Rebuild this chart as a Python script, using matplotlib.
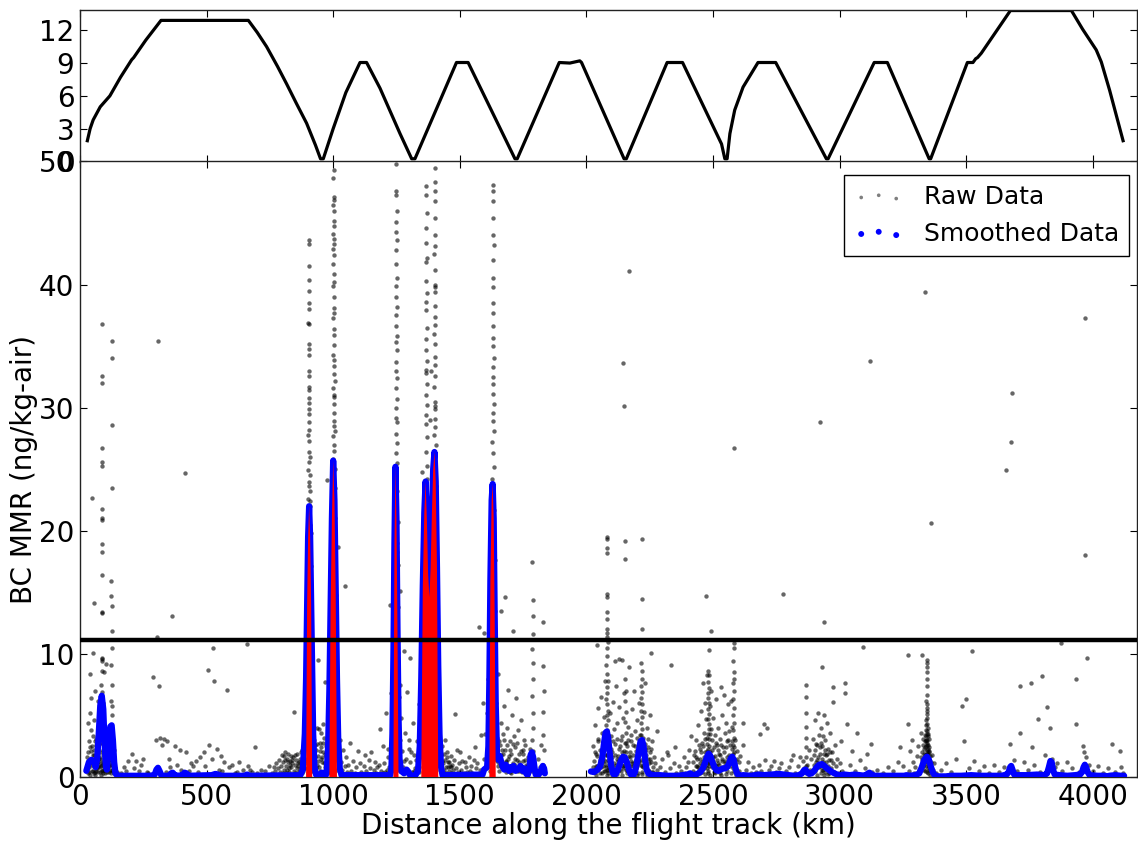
import numpy as np
import matplotlib
matplotlib.use("Agg")
import matplotlib.pyplot as plt

# ---------------- data ----------------
# flight altitude profile: (distance km, altitude km)
altitude_profile = [(29,1.9),(40,3.0),(52,3.8),(80,5.0),(118,6.0),(160,7.7),(204,9.3),(212,9.5),(224,9.9),
    (260,11.1),(320,12.9),(665,12.9),(700,11.8),(737,10.5),(780,8.7),(816,7.1),(855,5.3),(895,3.5),(930,1.5),
    (950,0.25),(961,0.25),(1000,3.0),(1050,6.3),(1106,9.05),(1132,9.05),(1185,6.7),(1264,2.55),(1310,0.25),
    (1323,0.25),(1487,9.05),(1533,9.05),(1718,0.25),(1727,0.25),(1893,9.05),(1935,9.0),(1974,9.2),(1981,9.05),
    (2149,0.25),(2158,0.25),(2319,9.05),(2380,9.05),(2534,1.6),(2547,0.25),(2556,0.25),(2567,2.55),(2586,4.7),
    (2619,6.8),(2640,7.6),(2678,9.05),(2748,9.05),(2948,0.25),(2955,0.25),(3137,9.05),(3189,9.05),(3354,0.25),
    (3360,0.25),(3505,9.05),(3527,9.05),(3538,9.4),(3545,9.5),(3560,9.9),(3675,13.8),(3916,13.8),(3960,12.1),
    (4014,10.2),(4034,9.1),(4067,6.5),(4120,1.9)]

# smoothed BC MMR: (distance km, ng/kg)
smoothed_a = [(25,0.5),(35,1.2),(45,1.4),(55,1.3),(62,0.8),(68,1.5),(74,3.5),(80,5.8),(86,6.6),(92,5.5),(97,2.8),
    (102,0.9),(106,0.6),(110,1.5),(115,3.2),(120,4.1),(125,4.2),(130,3.0),(135,1.2),(140,0.3),(148,0.1),(200,0.1),
    (280,0.1),(295,0.2),(302,0.6),(308,0.75),(314,0.5),(322,0.1),(350,0.1),(360,0.3),(366,0.35),(372,0.2),(385,0.1),
    (405,0.15),(413,0.35),(420,0.3),(428,0.1),(520,0.15),(535,0.25),(545,0.2),(560,0.1),(650,0.1),(660,0.2),(670,0.1),
    (870,0.15),(880,0.6),(888,3.5),(893,8.0),(897,14.0),(901,19.5),(905,22.0),(909,19.5),(913,14.0),(917,8.0),
    (921,3.5),(926,0.8),(932,0.2),(945,0.1),(955,0.35),(962,0.3),(970,0.1),(975,0.5),(980,2.5),(985,7.0),(990,14.0),
    (995,21.0),(1000,25.7),(1005,22.5),(1010,15.0),(1015,8.0),(1020,3.0),(1026,0.7),(1033,0.15),(1225,0.15),
    (1230,0.6),(1234,3.5),(1238,10.0),(1242,19.0),(1246,25.2),(1250,21.0),(1254,12.0),(1258,5.0),(1262,1.5),
    (1268,0.5),(1280,0.3),(1290,0.6),(1298,0.4),(1305,0.1),(1325,0.15),(1335,0.5),(1342,2.5),(1348,8.0),(1354,15.5),
    (1360,21.5),(1365,24.0),(1370,21.0),(1375,16.5),(1380,14.6),(1385,17.0),(1390,21.5),(1395,25.0),(1400,26.4),
    (1405,24.0),(1410,17.0),(1415,9.0),(1420,3.5),(1426,0.8),(1432,0.15),(1590,0.2),(1596,0.6),(1602,0.7),
    (1608,0.8),(1613,2.5),(1617,8.0),(1621,16.0),(1626,22.5),(1630,23.8),(1634,21.0),(1638,13.0),(1642,6.0),
    (1647,2.0),(1652,1.4),(1658,1.7),(1664,1.2),(1670,0.8),(1676,0.6),(1682,1.0),(1688,0.7),(1694,0.5),(1700,0.8),
    (1706,0.6),(1712,0.9),(1720,0.5),(1730,0.6),(1740,0.9),(1748,0.5),(1756,0.7),(1762,0.3),(1768,0.15),(1775,0.6),
    (1780,1.8),(1785,2.0),(1790,1.6),(1795,0.8),(1800,0.2),(1808,0.1),(1815,0.3),(1822,0.6),(1828,0.9),(1833,0.7),
    (1836,0.3)]
smoothed_b = [(2018,0.45),(2030,0.4),(2045,0.6),(2055,0.9),(2063,1.6),(2070,2.8),(2076,3.6),(2081,3.7),(2086,3.2),
    (2092,2.0),(2098,0.9),(2105,0.3),(2112,0.15),(2120,0.4),(2130,0.9),(2138,1.4),(2145,1.65),(2152,1.6),(2160,1.2),
    (2168,0.6),(2176,0.2),(2184,0.1),(2192,0.4),(2200,1.2),(2208,2.2),(2214,2.9),(2220,3.0),(2226,2.5),(2232,1.4),
    (2238,0.6),(2245,0.3),(2255,0.2),(2270,0.15),(2290,0.15),(2320,0.1),(2360,0.1),(2380,0.15),(2400,0.2),(2410,0.3),
    (2420,0.15),(2435,0.2),(2450,0.4),(2460,0.7),(2468,1.1),(2476,1.6),(2483,1.9),(2490,1.7),(2498,1.2),(2506,0.8),
    (2514,0.55),(2522,0.5),(2530,0.6),(2540,0.7),(2548,0.7),(2556,0.8),(2564,1.1),(2570,1.5),(2576,1.65),(2582,1.4),
    (2588,0.8),(2595,0.3),(2603,0.1),(2620,0.15),(2650,0.1),(2680,0.2),(2700,0.15),(2730,0.2),(2760,0.25),(2780,0.2),
    (2800,0.15),(2820,0.1),(2840,0.15),(2852,0.3),(2860,0.55),(2866,0.6),(2872,0.4),(2880,0.25),(2890,0.3),(2900,0.5),
    (2910,0.8),(2920,1.0),(2930,1.05),(2940,0.9),(2950,0.7),(2960,0.55),(2970,0.4),(2980,0.3),(2990,0.2),(3000,0.15),
    (3020,0.2),(3040,0.15),(3060,0.2),(3080,0.15),(3100,0.1),(3110,0.25),(3118,0.35),(3126,0.2),(3140,0.1),(3200,0.1),
    (3255,0.1),(3265,0.15),(3275,0.1),(3300,0.15),(3315,0.3),(3325,0.8),(3335,1.4),(3345,1.65),(3353,1.4),(3360,0.9),
    (3368,0.4),(3376,0.15),(3390,0.05),(3420,0.05),(3440,0.1),(3480,0.1),(3520,0.15),(3560,0.1),(3600,0.1),(3640,0.1),
    (3660,0.2),(3668,0.4),(3674,0.8),(3678,0.9),(3683,0.6),(3690,0.2),(3700,0.15),(3740,0.15),(3780,0.2),(3810,0.15),
    (3820,0.3),(3827,0.8),(3833,1.3),(3838,1.2),(3843,0.6),(3850,0.2),(3870,0.15),(3900,0.1),(3930,0.15),(3950,0.2),
    (3958,0.4),(3964,0.8),(3969,1.0),(3974,0.8),(3980,0.4),(3988,0.15),(4020,0.1),(4050,0.1)]
smoothed_c = [(4065,0.1),(4090,0.15),(4110,0.1),(4124,0.1)]

threshold = 11.1

# raw BC MMR samples: (distance km, ng/kg)
raw_start_low = [(28,0.6),(30,2.0),(32,0.3),(33,4.4),(35,2.9),(36,1.0),(38,5.2),(40,8.4),(41,0.15),(42,3.8),(44,1.4),
    (45,6.4),(47,0.5),(48,2.5),(50,1.8),(52,0.9),(53,3.3),(55,4.6),(57,1.8),(58,0.2),(60,1.2),(62,0.7),(63,2.6),(65,3.1),
    (67,1.1),(68,0.7),(70,2.3),(72,0.4),(74,1.5),(75,1.6),(77,0.8),(78,0.4),(80,2.0),(82,1.1),(84,4.9),(88,0.5),(90,1.2),
    (92,3.4),(94,0.9),(96,2.1),(98,1.6),(100,2.6),(104,0.8),(106,1.3),(108,0.4),(110,1.8),(112,2.5),(114,0.4),(116,3.2),
    (118,1.0),(120,0.6),(122,1.4),(128,1.0),(130,0.5),(133,2.2),(136,0.3),(140,0.7),(145,0.4),(31,1.3),(37,0.4),(43,2.1),
    (49,1.2),(54,0.3),(59,2.9),(64,0.5),(69,1.7),(73,0.9),(79,3.6),(83,0.2),(93,0.6),(99,0.3),(103,1.9)]
raw_col_86 = [(86,32.6),(87,32.0),(85,26.7),(86,25.6),(87,25.3),(86,21.8),(85,21.0),(87,20.9),(86,18.9),(87,18.3),
    (86,16.4),(85,13.4),(87,13.3),(86,9.6),(85,9.4),(88,8.6),(84,7.5),(86,6.9),(89,6.0),(83,5.5),(87,4.8),(90,4.2),
    (82,3.5),(86,2.8),(91,2.2),(84,1.5),(88,1.0),(85,0.6),(89,0.3)]
raw_col_125 = [(125,35.4),(125,34.0),(126,28.6),(126,23.5),(124,15.9),(124,14.7),(125,13.9),(125,11.9),(125,10.5),
    (124,9.1),(126,7.5),(123,6.2),(127,5.8),(125,5.0),(122,4.2),(128,3.5),(124,2.7),(126,2.0),(123,1.2),(127,0.6)]
raw_start_misc = [(55,14.1),(51,10.1),(85,9.7),(95,8.5),(102,9.2),(60,7.0),(70,6.2)]
raw_sparse_150_760 = [(175,0.8),(190,1.3),(205,1.9),(220,1.3),(235,0.5),(250,1.5),(265,0.4),(287,8.1),(300,3.0),
    (305,11.4),(311,7.4),(315,3.2),(322,2.6),(330,3.1),(345,2.9),(355,0.8),(364,13.1),(375,2.5),(385,1.0),(395,2.2),
    (400,0.6),(418,2.0),(430,0.5),(445,0.9),(460,1.3),(475,1.6),(490,2.0),(495,0.9),(504,8.7),(510,2.6),(520,1.5),
    (524,10.5),(529,7.8),(540,2.3),(550,0.6),(560,0.5),(570,1.2),(579,7.1),(590,0.8),(600,1.0),(620,0.4),(630,1.2),
    (645,0.6),(659,10.8),(665,0.9),(680,0.4),(690,2.4),(700,0.3),(715,0.6),(730,0.5),(745,0.9),(160,0.3),(182,0.5),
    (212,0.7),(242,1.0),(270,0.3),(338,0.4),(352,1.5),(408,0.3),(438,1.1),(468,0.4),(556,1.7),(612,0.3),(672,0.6)]
raw_blob_840 = [(760,0.3),(765,0.8),(770,0.5),(775,1.1),(778,0.2),(782,0.7),(786,1.4),(790,0.4),(793,0.9),(796,1.8),
    (800,0.3),(803,1.2),(806,0.6),(809,2.0),(812,0.9),(815,0.3),(818,1.5),(821,1.9),(824,0.7),(827,0.4),(830,1.3),
    (833,0.8),(836,1.1),(839,0.2),(842,1.6),(845,0.5),(846,5.3),(848,1.0),(851,0.3),(854,1.4),(857,0.7),(860,0.9),
    (863,0.4),(866,1.2),(869,0.6),(872,0.8),(875,0.3),(878,1.0),(881,0.5),(884,0.7),(887,1.5),(880,1.8),(886,2.6),
    (888,5.6),(811,1.4),(823,1.2),(835,1.7),(847,0.2),(858,1.9),(868,1.5),(877,2.2)]
raw_spike_905 = [(903,43.6),(904,43.3),(906,41.5),(905,40.4),(903,39.5),(906,38.5),(904,38.0),(902,36.9),(903,36.8),
    (905,35.2),(906,34.8),(904,34.3),(903,33.0),(905,32.6),(906,31.7),(904,31.4),(903,30.8),(905,30.4),(906,29.9),
    (904,29.5),(905,28.8),(903,28.2),(906,27.3),(904,26.4),(905,25.6),(902,24.9),(908,24.5),(903,24.0),(906,23.6),
    (909,23.2),(901,22.6),(907,22.4),(910,22.0),(900,21.2),(908,20.5),(911,19.8),(899,19.0),(906,18.3),(912,17.1),
    (898,16.2),(904,15.0),(913,14.3),(897,13.1),(909,12.3),(914,11.0),(896,10.2),(903,9.1),(915,8.3),(895,7.4),
    (907,6.5),(917,5.6),(893,4.7),(911,3.9),(919,3.1),(891,2.4),(905,1.8),(921,1.2),(889,0.7),(900,0.3),(912,0.5),
    (895,1.1),(918,2.0),(902,4.2),(909,7.0),(913,9.8),(899,13.6),(907,16.8),(903,20.0),(910,26.0),(901,27.8)]
raw_blob_950 = [(920,1.2),(925,3.0),(928,0.5),(932,2.2),(935,1.0),(938,4.0),(941,9.5),(944,0.8),(947,2.8),(950,1.5),
    (953,3.6),(956,0.4),(959,2.0),(962,1.1),(965,3.2),(967,7.7),(970,0.6),(973,2.5),(976,1.4),(979,0.3),(982,1.8),
    (985,0.9),(988,3.0),(974,24.1),(958,4.3),(945,3.9),(930,2.6),(950,0.3),(962,0.5),(935,0.2),(940,1.7),(948,2.1),
    (955,1.2),(968,1.9),(978,0.9),(924,0.4)]
raw_spike_1000 = [(1002,49.3),(1001,48.7),(1003,47.1),(1002,46.9),(1001,46.5),(1003,46.0),(1002,45.2),(1001,44.1),
    (1003,43.7),(1002,43.3),(1004,42.4),(1001,41.7),(1002,40.9),(1003,40.2),(1001,39.9),(1002,39.0),(1004,38.1),
    (1002,37.7),(1001,37.3),(1003,36.4),(1002,35.9),(1004,35.1),(1001,34.3),(1003,33.9),(1002,33.4),(1004,32.7),
    (1006,32.2),(1001,31.6),(1003,30.9),(1005,30.3),(1002,29.6),(1004,28.5),(1007,28.1),(1001,27.7),(1003,27.0),
    (1005,26.5),(1000,25.8),(1006,25.0),(999,24.2),(1007,23.5),(998,22.3),(1008,21.0),(997,19.8),(1009,18.5),
    (996,17.3),(1004,16.0),(1010,14.8),(995,13.5),(1002,12.2),(1011,11.0),(994,9.7),(1006,8.5),(1012,7.2),(993,6.0),
    (1000,4.8),(1014,3.5),(991,2.4),(1008,1.4),(1016,0.6),(989,0.4),(1003,2.0),(998,5.5),(1010,10.0),(1001,14.0),
    (1005,20.0),(1000,23.0),(1003,28.9),(1002,31.0),(1001,42.9),(1003,44.8)]
raw_low_1020_1240 = [(1020,18.7),(1048,15.5),(1015,5.5),(1025,3.0),(1030,1.2),(1035,0.6),(1040,2.2),(1045,0.9),
    (1050,1.6),(1055,0.4),(1060,1.0),(1065,2.8),(1070,0.5),(1080,1.3),(1085,0.3),(1090,0.8),(1100,2.1),(1105,1.1),
    (1110,0.4),(1120,0.9),(1125,1.8),(1130,0.5),(1140,1.4),(1145,0.7),(1150,2.0),(1160,0.6),(1165,1.2),(1170,0.3),
    (1180,1.0),(1185,3.9),(1190,0.5),(1195,2.5),(1200,1.1),(1205,0.4),(1210,5.2),(1215,1.6),(1220,0.8),(1225,14.0),
    (1228,6.8),(1232,3.5),(1236,8.5),(1175,0.8),(1198,0.3),(1212,0.6),(1218,2.3),(1222,0.3),(1230,1.5)]
raw_spike_1250 = [(1250,49.8),(1249,47.6),(1250,47.3),(1251,46.0),(1249,45.1),(1250,44.3),(1251,43.6),(1249,42.8),
    (1250,41.7),(1251,40.5),(1249,39.9),(1250,39.0),(1251,38.2),(1249,37.5),(1250,36.6),(1252,35.8),(1249,35.3),
    (1251,34.7),(1250,33.7),(1248,33.0),(1251,32.4),(1249,31.6),(1252,30.7),(1248,30.0),(1250,29.2),(1253,28.8),
    (1247,27.9),(1251,27.1),(1249,26.3),(1254,25.5),(1246,24.4),(1252,23.2),(1248,21.9),(1255,20.7),(1245,19.5),
    (1251,18.3),(1256,17.2),(1244,16.0),(1250,15.0),(1257,13.8),(1243,12.5),(1249,11.4),(1258,10.1),(1242,8.9),
    (1252,7.7),(1260,6.5),(1240,5.3),(1247,4.1),(1262,3.0),(1238,2.0),(1254,1.2),(1264,0.5),(1236,0.6),(1245,1.6),
    (1256,2.6),(1250,9.5),(1248,13.0),(1252,19.0),(1250,22.5),(1249,25.0)]
raw_low_1260_1352 = [(1265,15.1),(1280,10.2),(1290,6.9),(1300,3.0),(1262,7.5),(1268,4.8),(1272,2.1),(1276,0.8),
    (1284,3.6),(1288,1.5),(1294,0.5),(1298,2.3),(1303,9.7),(1305,1.2),(1310,0.4),(1315,4.4),(1320,1.8),(1325,0.7),
    (1330,2.9),(1335,1.0),(1340,5.9),(1345,3.3),(1349,24.8),(1352,8.0),(1278,1.3),(1292,0.3),(1308,2.0),(1318,0.5),
    (1328,1.4),(1338,0.4)]
raw_spike_1368 = [(1368,48.0),(1367,47.3),(1369,45.8),(1368,44.6),(1367,43.4),(1369,42.2),(1368,41.8),(1367,40.3),
    (1369,39.3),(1368,38.6),(1366,37.9),(1369,36.5),(1368,35.6),(1367,34.7),(1370,33.8),(1366,33.1),(1368,32.8),
    (1369,31.9),(1367,31.0),(1370,30.2),(1366,29.4),(1368,28.7),(1371,27.6),(1365,26.4),(1369,25.3),(1372,24.2),
    (1364,23.1),(1368,22.0),(1373,20.7),(1363,19.4),(1370,17.9),(1374,16.5),(1362,15.1),(1367,13.6),(1375,12.2),
    (1360,10.8),(1369,9.4),(1376,8.0),(1358,6.7),(1365,5.3),(1378,4.0),(1356,2.8),(1371,1.7),(1354,0.8),(1362,1.3),
    (1374,3.3),(1366,7.2),(1370,11.5),(1368,18.5)]
raw_spike_1402 = [(1402,49.5),(1401,48.3),(1403,47.6),(1402,46.8),(1401,45.4),(1403,44.0),(1402,43.1),(1400,42.5),
    (1403,41.2),(1402,40.0),(1401,39.4),(1403,38.3),(1402,37.4),(1400,36.0),(1404,35.2),(1401,34.1),(1403,33.5),
    (1402,32.6),(1400,31.7),(1404,30.5),(1401,29.9),(1403,29.1),(1402,28.4),(1399,27.8),(1405,27.0),(1401,26.2),
    (1403,25.7),(1398,24.8),(1406,23.6),(1400,22.4),(1404,21.3),(1397,20.0),(1407,18.6),(1401,17.3),(1405,16.0),
    (1396,14.4),(1408,13.0),(1402,11.7),(1395,10.3),(1409,9.0),(1403,7.6),(1393,6.3),(1411,5.0),(1399,3.8),(1413,2.6),
    (1391,1.5),(1406,0.6),(1415,1.0),(1389,0.4),(1404,2.2),(1398,4.6),(1407,8.3),(1402,12.5),(1400,19.3),(1403,30.1),
    (1401,36.7),(1404,39.8),(1386,33.0),(1384,29.0)]
raw_blob_1420_1620 = [(1418,3.2),(1422,0.9),(1425,1.8),(1428,0.4),(1431,2.5),(1434,1.1),(1437,0.6),(1440,3.0),
    (1443,1.4),(1446,0.3),(1449,2.0),(1452,0.8),(1455,1.2),(1458,0.5),(1461,0.9),(1464,1.7),(1467,0.3),(1470,1.0),
    (1473,0.6),(1476,1.4),(1480,5.1),(1484,0.7),(1488,2.2),(1492,0.4),(1496,1.1),(1500,2.0),(1505,0.6),(1510,1.3),
    (1515,0.3),(1520,1.2),(1525,0.8),(1530,0.4),(1535,1.6),(1540,0.5),(1545,0.9),(1550,0.3),(1555,1.4),(1560,2.4),
    (1565,0.7),(1570,1.1),(1576,12.2),(1580,0.6),(1585,3.4),(1590,6.0),(1594,1.5),(1596,11.7),(1600,3.5),(1603,0.9),
    (1606,5.2),(1610,8.0),(1613,2.0),(1616,4.3),(1620,9.8)]
raw_spike_1632 = [(1632,48.1),(1631,47.6),(1633,46.8),(1632,45.4),(1631,44.0),(1634,43.2),(1632,42.0),(1631,40.5),
    (1633,39.8),(1632,38.5),(1630,37.7),(1633,36.6),(1632,35.7),(1631,35.0),(1634,34.0),(1630,33.3),(1632,32.5),
    (1633,31.9),(1631,31.1),(1634,30.3),(1630,29.6),(1632,28.9),(1635,28.1),(1629,27.2),(1633,26.3),(1636,25.2),
    (1628,24.2),(1632,23.0),(1637,21.7),(1627,20.3),(1634,19.0),(1638,17.6),(1626,16.3),(1631,14.9),(1639,13.5),
    (1624,12.0),(1633,10.6),(1641,9.2),(1622,7.8),(1630,6.4),(1643,5.0),(1620,3.7),(1636,2.5),(1645,1.4),(1618,0.5),
    (1626,1.8),(1639,3.1),(1632,8.5),(1628,11.3),(1634,15.6),(1631,20.8)]
raw_blob_1645_1840 = [(1645,6.0),(1648,3.2),(1650,1.2),(1652,8.4),(1655,0.5),(1658,2.6),(1661,13.5),(1661,4.4),
    (1664,1.8),(1667,0.7),(1670,3.5),(1673,5.8),(1676,1.0),(1678,14.6),(1680,2.2),(1683,0.4),(1686,4.0),(1689,1.5),
    (1692,7.1),(1695,0.8),(1698,2.9),(1701,0.3),(1704,1.9),(1707,5.0),(1710,11.9),(1710,1.1),(1713,3.3),(1716,0.6),
    (1719,2.4),(1722,6.4),(1725,1.4),(1728,0.5),(1731,3.8),(1734,1.9),(1737,0.8),(1740,4.6),(1743,2.1),(1746,0.4),
    (1749,1.3),(1752,3.0),(1755,0.7),(1758,2.6),(1761,1.0),(1764,0.3),(1768,1.6),(1772,0.5),(1776,2.3),(1780,0.9),
    (1787,17.5),(1789,14.4),(1790,13.1),(1788,11.6),(1787,10.4),(1789,9.3),(1788,8.0),(1787,6.6),(1789,5.2),(1788,4.0),
    (1787,3.0),(1789,2.1),(1788,1.2),(1787,0.5),(1829,12.6),(1830,9.0),(1831,7.0),(1829,5.3),(1830,3.4),(1831,2.2),
    (1829,1.0),(1830,0.4),(1815,0.8),(1808,1.5),(1820,2.6),(1653,0.9),(1666,2.2),(1684,1.3),(1697,0.4),(1718,1.5),
    (1733,0.5),(1748,2.2),(1765,0.9)]
raw_cols_2030_2260 = [(2082,19.5),(2081,18.6),(2083,18.2),(2082,14.9),(2081,14.6),(2080,13.4),(2082,12.8),(2083,12.0),
    (2080,11.7),(2082,11.4),(2084,11.0),(2081,10.5),(2083,9.8),(2079,9.1),(2082,8.4),(2085,7.8),(2080,7.3),(2083,6.8),
    (2078,6.3),(2082,5.9),(2086,5.4),(2080,5.0),(2084,4.6),(2078,4.2),(2082,3.8),(2086,3.4),(2079,3.0),(2083,2.6),
    (2087,2.2),(2080,1.8),(2084,1.4),(2078,1.0),(2082,0.6),(2086,0.3),
    (2154,19.2),(2154,17.7),(2153,8.0),(2155,7.0),(2152,6.2),(2156,5.3),(2153,4.5),(2155,3.6),(2152,2.8),(2156,2.0),
    (2153,1.3),(2155,0.6),(2170,41.1),(2145,33.6),(2150,30.1),
    (2218,19.3),(2218,14.5),(2219,12.0),(2217,9.3),(2219,8.6),(2218,8.0),(2216,7.4),(2220,6.9),(2217,6.4),(2219,5.9),
    (2216,5.4),(2220,4.9),(2217,4.4),(2219,3.9),(2215,3.4),(2221,2.9),(2217,2.4),(2219,1.9),(2215,1.4),(2221,0.9),
    (2218,0.4)]
raw_low_2030_2260 = [(2025,0.8),(2028,2.5),(2031,1.3),(2034,0.4),(2036,4.2),(2039,1.9),(2041,10.7),(2042,0.7),
    (2045,3.1),(2047,5.6),(2050,1.0),(2052,2.2),(2055,0.3),(2057,6.5),(2060,1.6),(2062,3.6),(2065,0.9),(2067,2.8),
    (2070,4.9),(2072,0.5),(2074,7.8),(2076,1.8),(2088,2.4),(2090,0.8),(2093,5.2),(2095,1.4),(2098,3.3),(2100,0.6),
    (2103,2.0),(2105,6.1),(2108,1.1),(2110,3.9),(2113,0.4),(2115,2.7),(2118,7.4),(2120,1.5),(2122,4.4),(2125,0.8),
    (2127,2.3),(2130,5.7),(2132,1.2),(2135,3.0),(2137,0.5),(2140,9.5),(2142,2.0),(2145,4.8),(2148,1.0),(2150,6.8),
    (2160,2.5),(2162,0.6),(2165,4.1),(2167,1.7),(2169,8.9),(2172,0.9),(2175,3.4),(2177,1.3),(2180,5.5),(2182,0.4),
    (2185,2.6),(2188,7.0),(2190,1.1),(2193,3.7),(2195,0.7),(2198,2.1),(2200,4.6),(2203,1.4),(2205,0.3),(2208,6.0),
    (2210,2.4),(2225,3.2),(2228,5.3),(2230,1.0),(2233,7.6),(2235,2.2),(2238,0.6),(2240,4.0),(2243,1.5),(2245,3.1),
    (2248,0.5),(2250,2.0),(2252,5.0),(2255,10.1),(2255,1.2),(2258,0.4),(2260,2.9),(2263,0.8),(2266,1.6),(2040,0.2),
    (2060,0.3),(2080,0.15),(2100,0.2),(2120,0.25),(2140,0.2),(2160,0.3),(2180,0.15),(2200,0.2),(2220,0.25),(2240,0.2),
    (2044,0.9),(2064,1.2),(2084,0.6),(2104,0.8),(2124,1.3),(2144,0.7),(2164,1.0),(2184,0.9),(2204,1.1),(2224,0.8),
    (2244,0.6),(2112,9.4),(2127,9.6)]
raw_sparse_2260_2420 = [(2278,3.7),(2318,2.0),(2322,1.8),(2335,9.1),(2290,0.8),(2300,1.5),(2310,0.4),(2330,0.7),
    (2345,1.1),(2355,0.3),(2365,0.9),(2375,0.5),(2385,1.6),(2395,0.8),(2405,2.2),(2412,3.3),(2270,1.1),(2265,0.4),
    (2280,0.6),(2350,2.4),(2390,0.3),(2402,1.2)]
raw_cols_2420_2610 = [(2473,14.7),(2491,11.9),(2483,10.3),(2482,8.6),(2484,8.3),(2481,7.7),(2485,7.2),(2482,6.8),
    (2480,6.4),(2484,6.0),(2481,5.5),(2485,5.1),(2479,4.7),(2483,4.3),(2486,3.9),(2480,3.5),(2484,3.1),(2478,2.7),
    (2482,2.3),(2486,1.9),(2480,1.5),(2484,1.1),(2478,0.7),(2482,0.3),
    (2582,10.9),(2582,10.5),(2581,9.4),(2583,8.5),(2582,8.0),(2581,7.6),(2583,7.0),(2580,6.3),(2584,5.6),(2581,5.0),
    (2583,4.4),(2580,3.8),(2584,3.2),(2581,2.6),(2583,2.0),(2580,1.5),(2584,1.0),(2582,0.5),(2583,26.7)]
raw_low_2420_2610 = [(2420,0.5),(2425,1.8),(2428,0.3),(2432,3.0),(2435,0.9),(2438,1.5),(2441,4.2),(2444,0.6),
    (2447,2.3),(2450,1.1),(2452,5.4),(2455,0.4),(2458,2.8),(2460,7.6),(2462,1.3),(2464,3.6),(2466,0.7),(2468,6.0),
    (2470,2.0),(2472,4.7),(2474,1.0),(2476,8.3),(2478,3.2),(2480,0.5),(2486,2.5),(2488,5.8),(2490,1.2),(2492,7.0),
    (2494,3.9),(2496,0.8),(2498,2.2),(2500,4.8),(2502,1.6),(2505,0.4),(2507,3.4),(2510,1.0),(2512,6.3),(2515,2.6),
    (2518,0.6),(2520,4.0),(2523,1.9),(2526,0.3),(2528,3.1),(2531,7.3),(2534,1.3),(2536,5.0),(2539,2.4),(2541,0.7),
    (2544,6.7),(2546,3.6),(2549,1.1),(2552,4.4),(2554,0.5),(2557,2.9),(2560,5.9),(2562,1.8),(2565,3.7),(2568,0.9),
    (2571,6.2),(2574,2.3),(2577,4.1),(2586,1.4),(2589,3.0),(2592,0.6),(2595,2.1),(2598,0.3),(2601,1.2),(2604,0.5),
    (2608,1.7),(2430,0.2),(2450,0.3),(2470,0.25),(2490,0.2),(2510,0.3),(2530,0.2),(2550,0.25),(2570,0.3),(2590,0.2),
    (2440,0.8),(2460,1.0),(2480,1.2),(2500,0.9),(2520,1.1),(2540,0.8),(2560,1.0),(2580,0.7)]
raw_sparse_2610_2850 = [(2620,4.4),(2620,2.6),(2686,3.5),(2700,4.3),(2714,4.0),(2778,14.9),(2817,1.8),(2630,0.6),
    (2640,1.2),(2650,0.3),(2660,0.8),(2670,0.4),(2680,1.0),(2690,0.5),(2705,1.4),(2720,0.6),(2730,0.9),(2740,1.3),
    (2750,0.4),(2760,0.7),(2770,1.1),(2790,0.5),(2800,0.8),(2810,1.4),(2825,0.3),(2835,0.9),(2845,1.6)]
raw_blob_2850_3010 = [(2866,7.5),(2867,6.5),(2868,5.2),(2866,4.1),(2867,3.2),(2868,2.4),(2866,1.6),(2867,0.9),
    (2868,0.3),(2852,0.4),(2856,1.3),(2860,0.7),(2872,1.0),(2876,0.3),(2880,2.2),(2884,0.6),(2888,1.5),(2892,0.4),
    (2896,3.1),(2899,1.0),(2902,4.6),(2905,0.5),(2908,2.7),(2911,1.4),(2914,5.2),(2917,0.8),(2920,3.4),(2922,28.8),
    (2923,1.9),(2926,4.0),(2929,0.6),(2930,8.9),(2932,2.5),(2935,1.2),(2938,5.0),(2939,12.6),(2941,0.4),(2944,3.0),
    (2947,1.8),(2950,4.4),(2953,0.9),(2956,2.3),(2959,0.3),(2962,3.6),(2965,1.4),(2968,0.7),(2971,2.0),(2973,7.3),
    (2973,6.1),(2976,1.1),(2980,0.4),(2984,2.6),(2988,0.9),(2992,1.5),(2996,0.3),(3000,1.1),(3005,2.9),(3010,0.5),
    (2910,0.2),(2925,0.3),(2940,0.2),(2955,0.25),(2915,1.0),(2945,0.8),(2935,0.6)]
raw_sparse_3010_3260 = [(3022,7.6),(3022,6.8),(3030,4.3),(3071,3.6),(3093,10.6),(3125,2.7),(3040,1.0),(3050,2.1),
    (3060,0.5),(3080,1.4),(3100,0.7),(3110,1.9),(3120,33.8),(3130,0.4),(3150,0.6),(3170,0.3),(3190,0.8),(3210,0.5),
    (3230,1.2),(3240,2.4),(3250,0.9)]
raw_blob_3260_3380 = [(3345,9.5),(3346,9.3),(3344,8.9),(3345,8.5),(3346,8.0),(3344,7.4),(3345,6.7),(3343,6.2),
    (3346,5.6),(3344,5.1),(3347,4.8),(3342,4.6),(3345,4.3),(3348,4.0),(3341,3.8),(3346,3.5),(3349,3.3),(3340,3.0),
    (3344,2.8),(3350,2.6),(3338,2.4),(3347,2.2),(3352,2.0),(3336,1.8),(3343,1.6),(3354,1.4),(3334,1.2),(3349,1.0),
    (3356,0.8),(3332,0.6),(3345,0.4),(3358,0.2),(3340,1.5),(3350,1.9),(3336,2.9),(3353,3.1),(3342,0.9),(3348,0.3),
    (3338,0.5),(3355,2.4),(3330,1.0),(3360,1.2),(3344,2.0),(3346,1.2),(3341,2.5),(3351,0.7),(3271,9.9),(3326,9.9),
    (3269,4.3),(3280,2.1),(3290,1.2),(3300,0.8),(3310,2.5),(3320,1.6),(3275,0.5),(3285,3.0),(3295,0.3),(3305,1.7),
    (3315,0.6),(3322,3.6),(3328,0.9),(3362,0.5),(3366,1.8),(3370,0.6),(3375,1.1),(3380,0.3),(3361,20.6),(3336,39.4)]
raw_sparse_3380_4130 = [(3400,0.6),(3420,1.1),(3440,0.4),(3460,1.5),(3482,5.8),(3490,2.9),(3500,6.3),(3510,0.7),
    (3522,10.2),(3530,1.3),(3550,0.5),(3570,0.9),(3590,0.3),(3610,1.0),(3630,0.4),(3650,0.8),(3656,24.9),(3673,2.7),
    (3677,27.2),(3681,31.2),(3680,0.6),(3690,1.4),(3700,0.5),(3714,3.6),(3714,7.4),(3730,1.2),(3745,0.6),(3758,7.6),
    (3760,2.4),(3770,1.0),(3783,4.7),(3790,0.4),(3799,8.2),(3810,1.8),(3820,5.7),(3831,4.0),(3840,1.5),(3850,0.8),
    (3860,1.1),(3875,10.9),(3880,0.5),(3900,1.2),(3920,0.7),(3933,4.3),(3936,8.0),(3945,0.4),(3960,2.5),(3965,2.0),
    (3971,18.0),(3971,37.3),(3975,1.6),(3979,9.7),(3985,1.0),(4000,0.5),(4020,0.9),(4040,0.3),(4060,0.7),(4078,2.7),
    (4090,0.4),(4106,2.1),(4110,0.8),(4120,0.3)]
raw_isolated_high = [(86,36.8),(308,35.4),(415,24.7),(48,22.7),(2082,19.3)]
# extra readings in the darkest near-ground clusters
raw_dense_extra = [(29,1.6),(34,0.8),(39,2.4),(46,1.1),(51,0.5),(56,2.2),(61,0.4),(66,1.9),(71,1.2),(76,2.7),
    (81,0.9),(89,1.8),(97,0.7),(101,1.4),(107,2.0),(113,0.9),(119,1.7),(124,0.3),(129,1.6),
    (805,1.7),(817,0.6),(829,1.0),(838,1.4),(850,1.8),(862,1.1),(871,2.0),(883,1.3),
    (922,2.0),(927,1.6),(933,0.7),(937,2.7),(942,1.3),(946,0.5),(952,2.4),(957,1.6),(961,2.8),(966,0.8),(971,1.7),
    (977,2.2),(981,0.6),(986,1.5),(1422,2.2),(1429,1.3),(1436,1.9),(1444,0.8),(1451,1.6),(1459,1.2),(1466,0.8),
    (1649,1.6),(1656,2.9),(1662,0.9),(1669,1.9),(1675,3.0),(1681,1.2),(1688,2.6),(1694,1.7),(1700,2.2),(1706,0.9),
    (1712,2.7),(1720,1.0),(1727,2.8),(1735,1.2),(1742,0.9),(1751,1.9),(1759,1.4),
    (2033,2.0),(2038,0.9),(2043,1.7),(2048,2.9),(2053,1.4),(2058,0.8),(2061,2.2),(2066,1.5),(2069,0.5),(2071,3.2),
    (2073,1.3),(2077,2.6),(2079,0.8),(2085,1.9),(2089,1.2),(2091,3.0),(2094,0.7),(2097,2.3),(2101,1.6),(2106,2.9),
    (2109,0.6),(2114,1.8),(2117,1.0),(2121,3.1),(2126,1.7),(2129,0.6),(2133,2.5),(2136,1.4),(2139,3.3),(2143,0.9),
    (2147,2.1),(2151,1.5),(2157,2.8),(2159,1.2),(2163,3.0),(2166,0.9),(2171,2.0),(2174,1.6),(2178,2.9),(2181,1.1),
    (2186,1.8),(2189,0.6),(2192,2.5),(2196,1.4),(2199,3.2),(2202,0.9),(2206,2.0),(2209,1.3),(2212,3.4),(2214,1.0),
    (2222,2.1),(2226,1.3),(2231,2.7),(2234,0.9),(2237,1.8),(2242,2.4),(2246,1.1),(2251,1.5),(2256,2.3),
    (2423,1.2),(2429,2.1),(2434,1.6),(2439,0.9),(2443,2.6),(2448,1.5),(2453,2.0),(2457,1.0),(2461,2.5),(2465,1.6),
    (2469,3.1),(2473,1.4),(2477,2.1),(2481,1.7),(2485,0.9),(2487,3.5),(2489,2.0),(2493,1.5),(2497,3.0),(2501,1.2),
    (2504,2.4),(2508,1.7),(2511,0.9),(2514,2.8),(2517,1.4),(2521,2.2),(2525,1.0),(2529,1.8),(2533,2.6),(2537,1.5),
    (2542,2.0),(2547,1.3),(2551,2.4),(2556,1.6),(2559,3.0),(2563,1.1),(2567,2.6),(2572,1.5),(2576,2.9),(2579,1.9),
    (2585,2.4),(2588,1.1),(2594,1.5),
    (2898,1.8),(2903,2.2),(2907,1.2),(2912,2.6),(2916,1.6),(2921,2.4),(2924,0.9),(2928,2.8),(2931,1.5),(2934,3.3),
    (2937,1.9),(2942,2.2),(2946,1.2),(2951,1.9),(2957,1.4),(2963,2.0),
    (3324,2.0),(3327,1.4),(3329,2.6),(3331,3.1),(3333,1.9),(3335,2.3),(3337,3.4),(3339,1.3),(3341,1.8),(3343,2.9),
    (3344,3.7),(3345,1.9),(3346,2.6),(3347,3.0),(3348,1.6),(3349,2.3),(3351,3.5),(3352,1.4),(3353,2.1),(3354,0.6),
    (3357,1.7),(3359,0.9),(3343,4.2),(3347,5.4),(3345,5.9),(3342,3.3)]

raw_groups = [raw_start_low, raw_col_86, raw_col_125, raw_start_misc, raw_sparse_150_760, raw_blob_840,
              raw_spike_905, raw_blob_950, raw_spike_1000, raw_low_1020_1240, raw_spike_1250, raw_low_1260_1352,
              raw_spike_1368, raw_spike_1402, raw_blob_1420_1620, raw_spike_1632, raw_blob_1645_1840,
              raw_cols_2030_2260, raw_low_2030_2260, raw_sparse_2260_2420, raw_cols_2420_2610, raw_low_2420_2610,
              raw_sparse_2610_2850, raw_blob_2850_3010, raw_sparse_3010_3260, raw_blob_3260_3380,
              raw_sparse_3380_4130, raw_isolated_high, raw_dense_extra]

# ---------------- figure ----------------
TICK_FS = 20
LABEL_FS = 20
LEG_FS = 18
plt.rcParams['font.family'] = ['DejaVu Sans']

W, H = 1138, 841
fig = plt.figure(figsize=(W / 100, H / 100), dpi=100)
left = 80 / W
width = (1137 - 80) / W
ax_top = fig.add_axes([left, 1 - 161.5 / H, width, (161.5 - 10) / H])
ax = fig.add_axes([left, 1 - 777 / H, width, (777 - 161.5) / H], sharex=ax_top)

xmax = 4175

# top panel: altitude
alt = np.array(altitude_profile, dtype=float)
ax_top.plot(alt[:, 0], alt[:, 1], color='black', lw=2.3, solid_joinstyle='round')
ax_top.set_ylim(0, 13.85)
ax_top.set_yticks([0, 3, 6, 9, 12])
ax_top.tick_params(labelbottom=False)

# bottom panel
raw = np.array([p for g in raw_groups for p in g], dtype=float)
ax.scatter(raw[:, 0], raw[:, 1], s=10, c='black', alpha=0.6, linewidths=0, zorder=2)

def seg(lst):
    a = np.array(lst, dtype=float)
    return a[:, 0], a[:, 1]

sx = []
sy = []
for s in (smoothed_a, smoothed_b, smoothed_c):
    x, y = seg(s)
    sx += list(x) + [np.nan]
    sy += list(y) + [np.nan]
sx = np.array(sx)
sy = np.array(sy)
ax.plot(sx, sy, color='blue', lw=4.5, solid_joinstyle='round', solid_capstyle='round', zorder=3)
for s in (smoothed_a, smoothed_b):
    x, y = seg(s)
    ax.fill_between(x, 0, y, where=y > threshold, interpolate=True, color='red', lw=0, zorder=4)
ax.axhline(threshold, color='black', lw=3.2, zorder=5)

ax.set_ylim(0, 50)
ax.set_xlim(0, xmax)
ax.set_yticks([0, 10, 20, 30, 40, 50])
ax.set_xticks([0, 500, 1000, 1500, 2000, 2500, 3000, 3500, 4000])
ax.set_xlabel('Distance along the flight track (km)', fontsize=LABEL_FS, labelpad=1)
ax.set_ylabel('BC MMR (ng/kg-air)', fontsize=LABEL_FS)
ax.yaxis.set_label_coords(-0.040, 0.5)

for a in (ax, ax_top):
    a.tick_params(direction='in', top=True, right=True, length=5, width=0.8, labelsize=TICK_FS, pad=4)
    for sp in a.spines.values():
        sp.set_linewidth(1.0)
        sp.set_color('#222222')

# legend proxies
h_raw = ax.scatter([], [], s=7, c='black', alpha=0.5, linewidths=0)
h_smooth = ax.scatter([], [], s=18, c='blue', linewidths=0)
leg = ax.legend([h_raw, h_smooth], ['Raw Data', 'Smoothed Data'], loc='upper right',
                bbox_to_anchor=(0.9924, 0.978), borderaxespad=0, fontsize=LEG_FS,
                scatterpoints=3, scatteryoffsets=[0.375, 0.5, 0.3125], fancybox=False, framealpha=1,
                edgecolor='black', handlelength=2.0, handletextpad=0.8,
                borderpad=0.4, labelspacing=0.5)
leg.get_frame().set_linewidth(1.0)
leg.set_zorder(10)

fig.savefig('out.png', dpi=100)
